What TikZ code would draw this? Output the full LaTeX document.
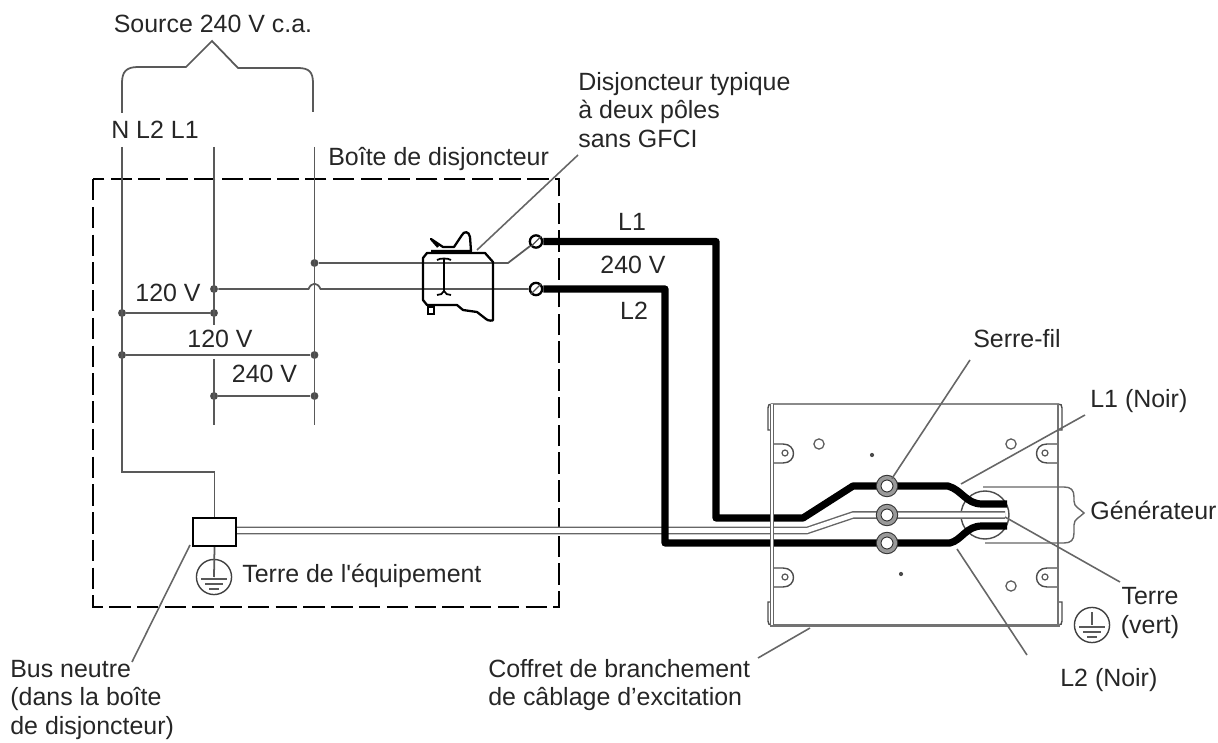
\documentclass[tikz,border=0pt]{standalone}
\usepackage{fontspec}
\setmainfont[Ligatures=TeXOff]{Liberation Sans}
\usetikzlibrary{positioning}
\tikzset{%
lbl/.style={inner sep=0pt, text=black!85, font=\fontsize{14.2}{16}\selectfont},
lbll/.style={lbl, anchor=west, align=left},
thin line/.style={draw=black!65, line width=1pt},
leader/.style={draw=black!60, line width=0.9pt},
wire/.style={draw=black, line width=4.1pt, line join=round},
gndwire/.style={draw=black!60, line width=0.8pt, double=white, double distance=2.7pt},
dot/.style={circle, fill=black!70, inner sep=0pt, minimum size=4.5pt},
term/.style={circle, draw=black, line width=1.3pt, fill=white, inner sep=0pt, minimum size=7pt},
hole/.style={circle, draw=black!65, line width=0.7pt, inner sep=0pt, minimum size=5.8pt},
nut/.style={circle, draw=black!80, line width=0.6pt, double=black!40, double distance=2pt, fill=white, inner sep=0pt, minimum size=9.5pt},
spot/.style={circle, fill=black!70, inner sep=0pt, minimum size=2.4pt},
earth/.style={circle, draw=black!75, line width=0.8pt, inner sep=0pt, minimum size=20pt},
box line/.style={draw=black!70, line width=0.8pt}
}
\begin{document}
\begin{tikzpicture}[x=0.02cm,y=-0.02cm]
	\useasboundingbox (0,0) rectangle (1218,743);

	% source and brace
	\node[lbl] (source) at (213,24) {Source 240 V c.a.};
	\node[lbl] (phases) at (155,130) {N L2 L1};
	\draw[thin line] (122,113) -- (122,83) .. controls (122,72) and (126,67) .. (138,67)
		-- (186,67) -- (212,41) -- (238,68) -- (298,68) .. controls (309,68) and (313,72) .. (313,83) -- (313,112);

	% breaker box
	\draw[black, line width=1.5pt, dash pattern=on 12.2pt off 3.6pt] (93,179) rectangle (559,607);
	\node[lbl, anchor=west] (boxname) at (328,159) {Boîte de disjoncteur};

	% bus bars
	\node[dot] (la) at (122,313) {};
	\node[dot] (lb) at (122,355) {};
	\node[dot] (ma) at (214,289) {};
	\node[dot] (mb) at (214,313) {};
	\node[dot] (mc) at (214,396) {};
	\node[dot] (ra) at (314.5,263) {};
	\node[dot] (rb) at (314.5,355) {};
	\node[dot] (rc) at (314.5,396) {};
	\node[draw=black, line width=1.2pt, minimum width=0.86cm, minimum height=0.56cm, inner sep=0pt] (bus) at (214.5,532) {};
	\coordinate (ntop) at (122,147);
	\coordinate (nelbow) at (122,472);
	\coordinate (ltwotop) at (214,147);
	\coordinate (ltwogap) at (214,325);
	\coordinate (ltwonext) at (214,359);
	\coordinate (ltwoend) at (214,425);
	\coordinate (lonetop) at (314.5,147);
	\coordinate (loneend) at (314.5,425);
	\draw[thin line] (ntop) -- (nelbow) -| (bus.north);
	\draw[thin line] (ltwotop) -- (ltwogap);
	\draw[thin line] (ltwonext) -- (ltwoend);
	\draw[thin line] (lonetop) -- (loneend);
	\draw[thin line] (la) -- (mb);
	\draw[thin line] (lb) -- (rb);
	\draw[thin line] (mc) -- (rc);

	\node[lbl] (va) at (168,293) {120 V};
	\node[lbl] (vb) at (220,339) {120 V};
	\node[lbl] (vc) at (264.5,374) {240 V};

	% terminals and breaker
	\node[term] (terma) at (536,241.5) {};
	\node[term] (termb) at (536,289) {};
	\draw[black!70, line width=0.7pt] (terma.south west) -- (terma.north east);
	\draw[black!70, line width=0.7pt] (termb.south west) -- (termb.north east);
	\coordinate (knee) at (508,263);
	\coordinate (hopa) at (308.5,289);
	\coordinate (hopb) at (320.5,289);
	\draw[thin line] (ra) -- (knee) -- (terma);
	\draw[thin line] (ma) -- (hopa) .. controls (311.5,282) and (317.5,282) .. (hopb) -- (termb);
	\draw[black, line width=1.3pt, line join=round] (423,258) -- (427,253) -- (485,253) -- (493,262) -- (493,320)
		.. controls (493,321) and (488,321) .. (486,319) -- (477,312) -- (463,310) -- (457,305) -- (427,305) -- (423,300) -- cycle;
	\draw[black, line width=1pt] (428,307) rectangle (434,314);
	\draw[black, line width=1.3pt, line join=round] (431,251) -- (471,251) -- (470,237) .. controls (469,231) and (464,231) .. (462,235)
		-- (454,247) -- (443,247) -- (431,239) -- (438,247);
	\draw[black, line width=1pt] (444,258) -- (444,292);
	\draw[black, line width=1pt] (437,260) .. controls (440,258) and (448,258) .. (451,260);
	\draw[black, line width=1pt] (437,295) .. controls (440,295) and (443,294) .. (444,291) .. controls (445,294) and (448,295) .. (451,295);

	% breaker callout
	\node[lbll] (breakername) at (578,110) {Disjoncteur typique\\à deux pôles\\sans GFCI};
	\coordinate (breakerfoot) at (477,250);
	\coordinate (breakerhead) at (578,155);
	\draw[leader] (breakerfoot) -- (breakerhead);

	% cabinet
	\draw[box line] (772,430) -- (768,430) -- (768,408) .. controls (768,405) and (769,404) .. (772,404)
		-- (1058,404) .. controls (1061,404) and (1062,405) .. (1062,408) -- (1062,430) -- (1058,430);
	\draw[box line] (772,602) -- (768,602) -- (768,621) .. controls (768,624) and (769,625) .. (772,625);
	\draw[box line] (1058,602) -- (1062,602) -- (1062,621) .. controls (1062,624) and (1061,625) .. (1058,625);
	\draw[black!55, line width=1.8pt] (770,625.5) -- (1060,625.5);
	\node[hole] (holea) at (819,444) {};
	\node[hole] (holeb) at (1011,444) {};
	\node[hole] (holec) at (1011,586) {};
	\node[spot] (spota) at (872,455) {};
	\node[spot] (spotb) at (901,574) {};
	\draw[box line] (772,444) -- (783,444) .. controls (797,444) and (797,463) .. (783,463) -- (772,463);
	\draw[box line] (772,568) -- (783,568) .. controls (797,568) and (797,587) .. (783,587) -- (772,587);
	\draw[box line] (1058,444) -- (1047,444) .. controls (1033,444) and (1033,463) .. (1047,463) -- (1058,463);
	\draw[box line] (1058,568) -- (1047,568) .. controls (1033,568) and (1033,587) .. (1047,587) -- (1058,587);
	\node[hole, minimum size=3.4pt] (screwa) at (785,453) {};
	\node[hole, minimum size=3.4pt] (screwb) at (785,577) {};
	\node[hole, minimum size=3.4pt] (screwc) at (1045,453) {};
	\node[hole, minimum size=3.4pt] (screwd) at (1045,577) {};
	\node[circle, draw=black!70, line width=0.8pt, inner sep=0pt, minimum size=0.96cm] (knockout) at (985,515) {};

	% wires
	\coordinate (gwa) at (237,530.5);
	\coordinate (gwb) at (807,530.5);
	\coordinate (gwc) at (853,515);
	\coordinate (gwd) at (1005,515);
	\draw[gndwire] (gwa) -- (gwb) -- (gwc) -- (gwd);
	\coordinate (wa) at (716,241.5);
	\coordinate (wb) at (716,518);
	\coordinate (wc) at (803,518);
	\coordinate (wd) at (853,486);
	\coordinate (we) at (948,486);
	\coordinate (wf) at (982,504);
	\coordinate (wg) at (1007,504);
	\draw[wire] (terma) -- (wa) -- (wb) -- (wc) -- (wd) -- (we) .. controls (962,490) and (966,504) .. (wf) -- (wg);
	\coordinate (xa) at (665,289);
	\coordinate (xb) at (665,543);
	\coordinate (xc) at (950,543);
	\coordinate (xd) at (982,526);
	\coordinate (xe) at (1007,526);
	\draw[wire] (termb) -- (xa) -- (xb) -- (xc) .. controls (962,540) and (966,526) .. (xd) -- (xe);
	\draw[black!60, line width=0.9pt, double=white, double distance=1pt] (772,404) -- (772,625);
	\draw[black!55, line width=1.5pt] (1058,404) -- (1058,625);
	\node[nut] (nuta) at (887,486) {};
	\node[nut] (nutb) at (887,515) {};
	\node[nut] (nutc) at (887,543) {};

	% wire labels
	\node[lbl] (lone) at (632,222) {L1};
	\node[lbl] (vd) at (633,265) {240 V};
	\node[lbl] (ltwo) at (634,311) {L2};

	% generator brace
	\node[lbll] (gen) at (1090,510) {Générateur};
	\coordinate (gena) at (983,487);
	\coordinate (genb) at (985,543);
	\draw[leader, line width=0.8pt] (gena) -- (1064,487) .. controls (1071,487) and (1074,490) .. (1074,497) -- (1074,501)
		.. controls (1074,507) and (1079,508) .. (1084,513) .. controls (1079,518) and (1074,519) .. (1074,525) -- (1074,533)
		.. controls (1074,540) and (1071,543) .. (1064,543) -- (genb);

	% callouts on the right
	\node[lbl] (nutname) at (1017,339) {Serre-fil};
	\node[lbll] (lonename) at (1090,401) {L1 (Noir)};
	\node[lbl, align=center] (earthname) at (1150,613) {Terre\\(vert)};
	\node[lbll] (ltwoname) at (1060,680) {L2 (Noir)};
	\node[lbll] (cabname) at (488,685) {Coffret de branchement\\de câblage d’excitation};
	\node[lbll] (busname) at (10,700) {Bus neutre\\(dans la boîte\\de disjoncteur)};
	\coordinate (nuthead) at (970,360);
	\coordinate (lonehead) at (1085,415);
	\coordinate (lonefoot) at (961,484);
	\coordinate (earthhead) at (1120,582);
	\coordinate (earthfoot) at (1005,517);
	\coordinate (ltwofoot) at (957,549);
	\coordinate (ltwohead) at (1027,655);
	\coordinate (cabfoot) at (810,628);
	\coordinate (cabhead) at (758,658);
	\coordinate (busfoot) at (190,545);
	\coordinate (bushead) at (132,662);
	\draw[leader] (nuthead) -- (nuta);
	\draw[leader] (lonehead) -- (lonefoot);
	\draw[leader] (earthhead) -- (earthfoot);
	\draw[leader] (ltwofoot) -- (ltwohead);
	\draw[leader] (cabfoot) -- (cabhead);
	\draw[leader] (busfoot) -- (bushead);

	% ground symbols
	\node[earth] (gnda) at (214,577) {};
	\draw[thin line] (bus.south) -- (gnda.center);
	\coordinate (gaa) at (201,579);
	\coordinate (gab) at (227,579);
	\coordinate (gac) at (205,584);
	\coordinate (gad) at (223,584);
	\coordinate (gae) at (209,589);
	\coordinate (gaf) at (219,589);
	\draw[thin line] (gaa) -- (gab);
	\draw[thin line] (gac) -- (gad);
	\draw[thin line] (gae) -- (gaf);
	\node[lbl, anchor=west] (gndname) at (242,576) {Terre de l'équipement};
	\node[earth] (gndb) at (1092,625) {};
	\coordinate (gbt) at (1092,612);
	\coordinate (gba) at (1079,627);
	\coordinate (gbb) at (1105,627);
	\coordinate (gbc) at (1083,632);
	\coordinate (gbd) at (1101,632);
	\coordinate (gbe) at (1087,637);
	\coordinate (gbf) at (1097,637);
	\draw[thin line] (gbt) -- (gndb.center);
	\draw[thin line] (gba) -- (gbb);
	\draw[thin line] (gbc) -- (gbd);
	\draw[thin line] (gbe) -- (gbf);
\end{tikzpicture}
\end{document}
